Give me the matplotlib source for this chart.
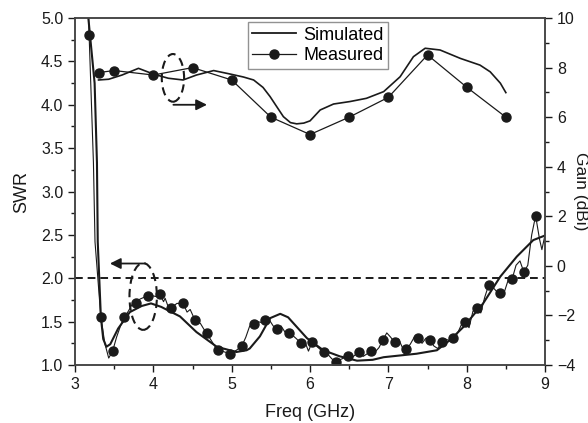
import matplotlib
matplotlib.use("Agg")
import matplotlib.pyplot as plt
from matplotlib.patches import Ellipse
from matplotlib.lines import Line2D

plt.rcParams['font.family'] = ['Liberation Sans', 'DejaVu Sans']

# SWR, simulated (smooth curve)
swr_sim_f = [3.15, 3.17, 3.25, 3.28, 3.29, 3.33, 3.36, 3.40, 3.45, 3.55, 3.70, 3.85,
             3.97, 4.10, 4.34, 4.55, 4.81, 5.06, 5.19, 5.23, 5.36, 5.49, 5.62, 5.72,
             5.83, 5.96, 6.17, 6.38, 6.60, 6.80, 6.94, 7.15, 7.36, 7.62, 7.79, 7.96,
             8.21, 8.43, 8.64, 8.85, 9.02]
swr_sim = [5.4, 5.0, 4.25, 3.33, 2.42, 1.55, 1.30, 1.21, 1.24, 1.42, 1.61, 1.68,
           1.71, 1.67, 1.56, 1.38, 1.21, 1.15, 1.17, 1.19, 1.33, 1.54, 1.59, 1.55,
           1.44, 1.31, 1.17, 1.10, 1.05, 1.06, 1.09, 1.11, 1.13, 1.17, 1.29, 1.44,
           1.71, 2.02, 2.25, 2.44, 2.50]

# SWR, measured (thin wiggly trace)
swr_meas_f = [3.16, 3.18, 3.235, 3.255, 3.33, 3.38, 3.43, 3.48, 3.53, 3.58, 3.63, 3.68,
              3.73, 3.78, 3.83, 3.88, 3.93, 3.98, 4.03, 4.08, 4.13, 4.15, 4.19, 4.23,
              4.30, 4.38, 4.43, 4.47, 4.53, 4.60, 4.64, 4.68, 4.72, 4.79, 4.83, 4.91,
              4.98, 5.06, 5.13, 5.18, 5.23, 5.28, 5.33, 5.38, 5.43, 5.48, 5.53, 5.58,
              5.63, 5.68, 5.73, 5.78, 5.83, 5.88, 5.93, 5.98, 6.03, 6.08, 6.13, 6.18,
              6.23, 6.28, 6.33, 6.38, 6.43, 6.48, 6.53, 6.58, 6.63, 6.68, 6.73, 6.78,
              6.83, 6.88, 6.93, 6.98, 7.03, 7.08, 7.13, 7.18, 7.23, 7.28, 7.33, 7.38,
              7.43, 7.48, 7.53, 7.58, 7.63, 7.68, 7.73, 7.78, 7.83, 7.88, 7.93, 7.98,
              8.03, 8.08, 8.13, 8.18, 8.23, 8.28, 8.33, 8.38, 8.43, 8.48, 8.53, 8.58,
              8.63, 8.68, 8.73, 8.78, 8.83, 8.88, 8.93, 8.96, 9.0]
swr_meas = [5.4, 4.80, 3.33, 2.42, 1.55, 1.25, 1.08, 1.16, 1.32, 1.45, 1.55, 1.62,
            1.70, 1.72, 1.76, 1.78, 1.79, 1.80, 1.79, 1.82, 1.73, 1.77, 1.67, 1.66,
            1.71, 1.71, 1.61, 1.64, 1.52, 1.48, 1.42, 1.365, 1.31, 1.21, 1.17, 1.15,
            1.13, 1.17, 1.22, 1.32, 1.45, 1.47, 1.50, 1.49, 1.52, 1.52, 1.45, 1.42,
            1.45, 1.38, 1.365, 1.34, 1.30, 1.25, 1.28, 1.16, 1.27, 1.22, 1.18, 1.15,
            1.12, 1.07, 1.04, 1.06, 1.08, 1.10, 1.08, 1.12, 1.15, 1.10, 1.13, 1.165,
            1.15, 1.20, 1.29, 1.37, 1.32, 1.26, 1.30, 1.20, 1.18, 1.24, 1.32, 1.31,
            1.25, 1.31, 1.29, 1.22, 1.19, 1.26, 1.30, 1.28, 1.31, 1.36, 1.46, 1.50,
            1.43, 1.62, 1.66, 1.60, 1.78, 1.92, 1.90, 1.85, 1.83, 1.84, 1.98, 1.99,
            2.15, 2.20, 2.07, 2.15, 2.50, 2.72, 2.45, 2.33, 2.50]

# SWR, measured marker points
swr_mark_f = [3.18, 3.33, 3.48, 3.63, 3.78, 3.93, 4.08, 4.23, 4.38, 4.53, 4.68, 4.83,
              4.98, 5.13, 5.28, 5.43, 5.58, 5.73, 5.88, 6.03, 6.18, 6.33, 6.48, 6.63,
              6.78, 6.93, 7.08, 7.23, 7.38, 7.53, 7.68, 7.83, 7.98, 8.13, 8.28, 8.43,
              8.58, 8.73, 8.88]
swr_mark = [4.80, 1.55, 1.16, 1.55, 1.72, 1.79, 1.82, 1.66, 1.71, 1.52, 1.365, 1.17,
            1.13, 1.22, 1.47, 1.52, 1.42, 1.365, 1.25, 1.27, 1.15, 1.04, 1.10, 1.15,
            1.165, 1.29, 1.26, 1.18, 1.31, 1.29, 1.26, 1.31, 1.50, 1.66, 1.92, 1.83,
            1.99, 2.07, 2.72]

# Gain (dBi)
gain_sim_f = [3.30, 3.43, 3.60, 3.81, 4.00, 4.19, 4.38, 4.55, 4.77, 4.98, 5.15, 5.28,
              5.40, 5.49, 5.58, 5.66, 5.75, 5.83, 5.92, 6.00, 6.13, 6.30, 6.51, 6.72,
              6.94, 7.15, 7.32, 7.47, 7.66, 7.92, 8.17, 8.30, 8.43, 8.50]
gain_sim = [7.50, 7.53, 7.70, 7.97, 7.74, 7.57, 7.50, 7.70, 7.88, 7.74, 7.62, 7.50,
            7.20, 6.83, 6.40, 6.02, 5.78, 5.73, 5.76, 5.85, 6.29, 6.53, 6.63, 6.76,
            7.03, 7.63, 8.44, 8.78, 8.71, 8.37, 8.10, 7.83, 7.37, 6.99]
gain_meas_f = [3.3, 3.5, 4.0, 4.5, 5.0, 5.5, 6.0, 6.5, 7.0, 7.5, 8.0, 8.5]
gain_meas = [7.80, 7.88, 7.70, 8.00, 7.50, 6.00, 5.30, 6.00, 6.80, 8.51, 7.21, 6.00]

ink = '#1a1a1a'

fig = plt.figure(figsize=(5.88, 4.23), dpi=100)
ax = fig.add_axes([0.1276, 0.1371, 0.7993, 0.8203])
ax2 = ax.twinx()

ax.plot(swr_sim_f, swr_sim, color=ink, lw=1.5)
ax.plot(swr_meas_f, swr_meas, color=ink, lw=0.8)
ax.plot(swr_mark_f, swr_mark, 'o', color=ink, ms=6.5, ls='none')
ax.axhline(2.0, color=ink, lw=1.4, ls=(0, (4, 2.5)))

ax2.plot(gain_sim_f, gain_sim, color=ink, lw=1.2)
ax2.plot(gain_meas_f, gain_meas, '-o', color=ink, lw=0.9, ms=6.5)

# ellipses + arrows
ax.add_patch(Ellipse((4.25, 4.31), 0.285, 0.55, fill=False, ec=ink, lw=1.5,
                     ls=(0, (4, 2.5))))
ax.add_patch(Ellipse((3.87, 1.79), 0.35, 0.77, fill=False, ec=ink, lw=1.5,
                     ls=(0, (4, 2.5))))
ax.annotate('', xy=(4.72, 4.0), xytext=(4.22, 4.0),
            arrowprops=dict(arrowstyle='-|>', color=ink, lw=1.3, mutation_scale=16))
ax.annotate('', xy=(3.41, 2.17), xytext=(3.93, 2.17),
            arrowprops=dict(arrowstyle='-|>', color=ink, lw=1.3, mutation_scale=16))

ax.set_xlim(3, 9)
ax.set_ylim(1.0, 5.0)
ax2.set_ylim(-4, 10)
ax.set_xticks(range(3, 10))
ax.set_xticks([3.5 + i for i in range(6)], minor=True)
ax.set_yticks([1.0 + 0.5 * i for i in range(9)])
ax.set_yticks([1.25 + 0.5 * i for i in range(8)], minor=True)
ax.set_yticklabels(['%.1f' % (1.0 + 0.5 * i) for i in range(9)])
ax2.set_yticks(range(-4, 11, 2))
ax2.set_yticks(range(-3, 10, 2), minor=True)

for a in (ax, ax2):
    a.tick_params(which='major', direction='out', length=5, width=1, colors=ink,
                  labelsize=11.5)
    a.tick_params(which='minor', direction='out', length=3, width=1, colors=ink)
    for s in a.spines.values():
        s.set_color('#444444')
        s.set_linewidth(1.1)

ax.set_xlabel('Freq (GHz)', fontsize=13, color=ink, labelpad=9)
ax.set_ylabel('SWR', fontsize=13, color=ink, labelpad=8)
ax2.set_ylabel('Gain (dBi)', fontsize=12.5, color=ink, rotation=270, labelpad=9)

handles = [Line2D([], [], color=ink, lw=1.3),
           Line2D([], [], color=ink, lw=0.9, marker='o', ms=6.5)]
leg = ax2.legend(handles, ['Simulated', 'Measured'], loc='upper left',
                 bbox_to_anchor=(0.368, 0.988), borderaxespad=0, fontsize=13,
                 frameon=True, fancybox=False, handlelength=2.4, handletextpad=0.4,
                 borderpad=0.25, labelspacing=0.2)
leg.get_frame().set_edgecolor('#777777')
leg.get_frame().set_linewidth(1.0)

fig.savefig('out.png', dpi=100)
